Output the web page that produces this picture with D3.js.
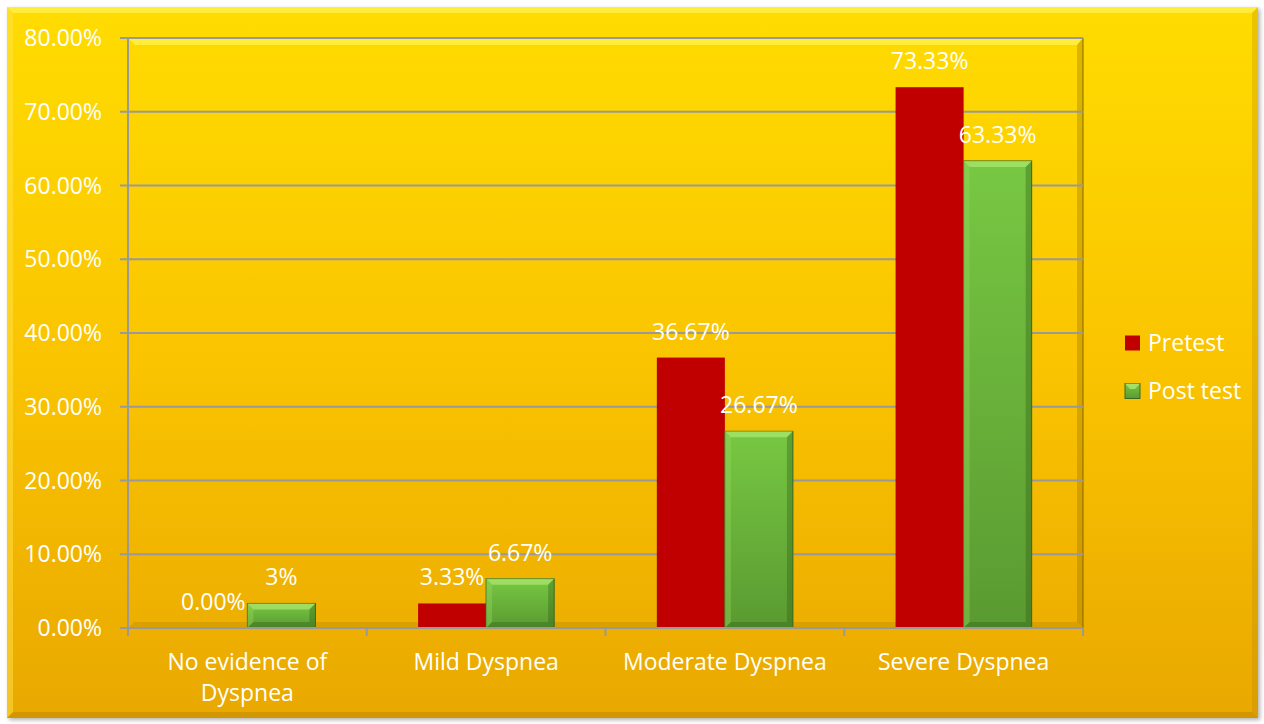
<!DOCTYPE html>
<html>
<head>
<meta charset="utf-8">
<script src="https://cdn.jsdelivr.net/npm/d3@7"></script>
<style>
  body { margin: 0; background: #fff; }
  svg text { font-family: "Open Sans", sans-serif; fill: #fff; }
</style>
</head>
<body>
<svg id="chart"></svg>
<script>
const categories = [["No evidence of", "Dyspnea"], ["Mild Dyspnea"], ["Moderate Dyspnea"], ["Severe Dyspnea"]];
const seriesNames = ["Pretest", "Post test"];
const pretest = [0, 3.33, 36.67, 73.33];
const posttest = [3.33, 6.67, 26.67, 63.33];
const pretestLabels = ["0.00%", "3.33%", "36.67%", "73.33%"];
const posttestLabels = ["3%", "6.67%", "26.67%", "63.33%"];
const yTicks = [0, 10, 20, 30, 40, 50, 60, 70, 80];

const W = 1264, H = 724;
const margin = {top: 38, right: 181, bottom: 96, left: 128};
const innerW = W - margin.left - margin.right;
const innerH = H - margin.top - margin.bottom;

const svg = d3.select('#chart').attr('width', W).attr('height', H);
const defs = svg.append('defs');

const bg = defs.append('linearGradient').attr('id', 'bg').attr('x1', 0).attr('y1', 0).attr('x2', 0).attr('y2', 1);
bg.append('stop').attr('offset', '0%').attr('stop-color', '#FFDC00');
bg.append('stop').attr('offset', '50%').attr('stop-color', '#FAC400');
bg.append('stop').attr('offset', '100%').attr('stop-color', '#E9A800');

const green = defs.append('linearGradient').attr('id', 'green').attr('x1', 0).attr('y1', 0).attr('x2', 0).attr('y2', 1);
green.append('stop').attr('offset', '0%').attr('stop-color', '#78C843');
green.append('stop').attr('offset', '100%').attr('stop-color', '#5A9A31');

const shadow = defs.append('filter').attr('id', 'shadow').attr('x', '-5%').attr('y', '-5%').attr('width', '110%').attr('height', '110%');
shadow.append('feDropShadow').attr('dx', 2).attr('dy', 2).attr('stdDeviation', 2).attr('flood-color', '#000').attr('flood-opacity', 0.3);

// outer chart area with bevel
svg.append('rect').attr('x', 7).attr('y', 7).attr('width', 1251).attr('height', 711)
    .attr('fill', 'url(#bg)').attr('filter', 'url(#shadow)');
svg.append('path').attr('d', 'M7,7 L1258,7 L1252,13 L13,13 Z').attr('fill', '#FFF04A').attr('opacity', 0.8);
svg.append('path').attr('d', 'M7,7 L13,13 L13,712 L7,718 Z').attr('fill', '#FFE24A').attr('opacity', 0.5);
svg.append('path').attr('d', 'M1258,7 L1258,718 L1252,712 L1252,13 Z').attr('fill', '#B07F00').attr('opacity', 0.25);
svg.append('path').attr('d', 'M7,718 L1258,718 L1252,712 L13,712 Z').attr('fill', '#A06F00').attr('opacity', 0.3);

const chart = svg.append('g').attr('transform', `translate(${margin.left}, ${margin.top})`);

// plot area bevel
chart.append('path').attr('d', `M0,0 L${innerW},0 L${innerW - 6},7 L7,7 Z`).attr('fill', '#FFF04A').attr('opacity', 0.8);
chart.append('path').attr('d', `M${innerW},0 L${innerW},${innerH} L${innerW - 6},${innerH - 6} L${innerW - 6},7 Z`)
    .attr('fill', '#8A6400').attr('opacity', 0.3);
chart.append('path').attr('d', `M0,${innerH} L${innerW},${innerH} L${innerW - 6},${innerH - 6} L6,${innerH - 6} Z`)
    .attr('fill', '#8A6400').attr('opacity', 0.2);
chart.append('line').attr('x1', innerW).attr('x2', innerW).attr('y1', 0).attr('y2', innerH)
    .attr('stroke', '#7A6000').attr('stroke-width', 1.5).attr('opacity', 0.6);

const x0 = d3.scaleBand().domain(d3.range(categories.length)).range([0, innerW])
    .paddingInner(0.43).paddingOuter(0.215);
const x1 = d3.scaleBand().domain(seriesNames).range([0, x0.bandwidth()]);
const y = d3.scaleLinear().domain([0, 80]).range([innerH, 0]);

// gridlines
chart.append('g').selectAll('line').data(yTicks).join('line')
    .attr('x1', -8).attr('x2', innerW)
    .attr('y1', d => y(d)).attr('y2', d => y(d))
    .attr('stroke', '#999').attr('stroke-width', 2);

// y axis labels
chart.append('g').selectAll('text').data(yTicks).join('text')
    .attr('x', -26).attr('y', d => y(d)).attr('dy', '0.35em')
    .attr('text-anchor', 'end').attr('font-size', '23px')
    .text(d => d.toFixed(2) + '%');

chart.append('line').attr('x1', 0).attr('x2', 0).attr('y1', 0).attr('y2', innerH)
    .attr('stroke', '#999').attr('stroke-width', 2);

// x axis ticks at category boundaries
const bounds = d3.range(categories.length + 1).map(i => i * x0.step());
chart.append('g').selectAll('line').data(bounds).join('line')
    .attr('x1', d => d).attr('x2', d => d).attr('y1', innerH).attr('y2', innerH + 8)
    .attr('stroke', '#999').attr('stroke-width', 2);

// bars
const groups = chart.append('g').selectAll('g').data(categories).join('g')
    .attr('transform', (d, i) => `translate(${x0(i)}, 0)`);

groups.append('rect')
    .attr('x', x1('Pretest')).attr('width', x1.bandwidth())
    .attr('y', (d, i) => y(pretest[i])).attr('height', (d, i) => innerH - y(pretest[i]))
    .attr('fill', '#C00000');

const bev = 6;
groups.each(function(d, i) {
    const g = d3.select(this);
    const bx = x1('Post test'), bw = x1.bandwidth();
    const top = y(posttest[i]), bot = innerH;
    const b = Math.min(bev, (bot - top) / 2);
    g.append('rect').attr('x', bx).attr('y', top).attr('width', bw).attr('height', bot - top)
        .attr('fill', 'url(#green)').attr('stroke', '#3E6B22').attr('stroke-width', 1);
    g.append('path').attr('d', `M${bx},${top} L${bx + bw},${top} L${bx + bw - b},${top + b} L${bx + b},${top + b} Z`)
        .attr('fill', '#B8EE7A').attr('opacity', 0.6);
    g.append('path').attr('d', `M${bx},${top} L${bx + b},${top + b} L${bx + b},${bot - b} L${bx},${bot} Z`)
        .attr('fill', '#9BDC60').attr('opacity', 0.35);
    g.append('path').attr('d', `M${bx + bw},${top} L${bx + bw},${bot} L${bx + bw - b},${bot - b} L${bx + bw - b},${top + b} Z`)
        .attr('fill', '#2E5A15').attr('opacity', 0.35);
    g.append('path').attr('d', `M${bx},${bot} L${bx + bw},${bot} L${bx + bw - b},${bot - b} L${bx + b},${bot - b} Z`)
        .attr('fill', '#2E5A15').attr('opacity', 0.35);
});

// bottom axis line on top of bars
chart.append('line').attr('x1', 0).attr('x2', innerW).attr('y1', innerH).attr('y2', innerH)
    .attr('stroke', '#999').attr('stroke-width', 2);

// data labels
groups.append('text')
    .attr('x', x1('Pretest') + x1.bandwidth() / 2)
    .attr('y', (d, i) => y(pretest[i]) - 26).attr('dy', '0.35em')
    .attr('text-anchor', 'middle').attr('font-size', '23px')
    .text((d, i) => pretestLabels[i]);
groups.append('text')
    .attr('x', x1('Post test') + x1.bandwidth() / 2)
    .attr('y', (d, i) => y(posttest[i]) - 26).attr('dy', '0.35em')
    .attr('text-anchor', 'middle').attr('font-size', '23px')
    .text((d, i) => posttestLabels[i]);

// category labels
groups.append('text')
    .attr('x', x0.bandwidth() / 2).attr('y', innerH + 34)
    .attr('text-anchor', 'middle').attr('font-size', '23px')
    .selectAll('tspan').data(d => d).join('tspan')
    .attr('x', x0.bandwidth() / 2).attr('dy', (d, i) => i === 0 ? '0.35em' : '31px')
    .text(d => d);

// legend
const legend = svg.append('g').attr('transform', 'translate(1125, 343)');
const items = legend.selectAll('g').data(seriesNames).join('g')
    .attr('transform', (d, i) => `translate(0, ${i * 48})`);
items.append('rect').attr('x', 0).attr('y', -7.5).attr('width', 15).attr('height', 15)
    .attr('fill', (d, i) => i === 0 ? '#C00000' : 'url(#green)')
    .attr('stroke', (d, i) => i === 0 ? 'none' : '#3E6B22').attr('stroke-width', 1);
items.filter((d, i) => i === 1).append('path')
    .attr('d', 'M0,-7.5 L15,-7.5 L10,-2 L5,-2 Z').attr('fill', '#B8EE7A').attr('opacity', 0.7);
items.append('text').attr('x', 23).attr('y', 0).attr('dy', '0.35em')
    .attr('font-size', '23px').text(d => d);
</script>
</body>
</html>
